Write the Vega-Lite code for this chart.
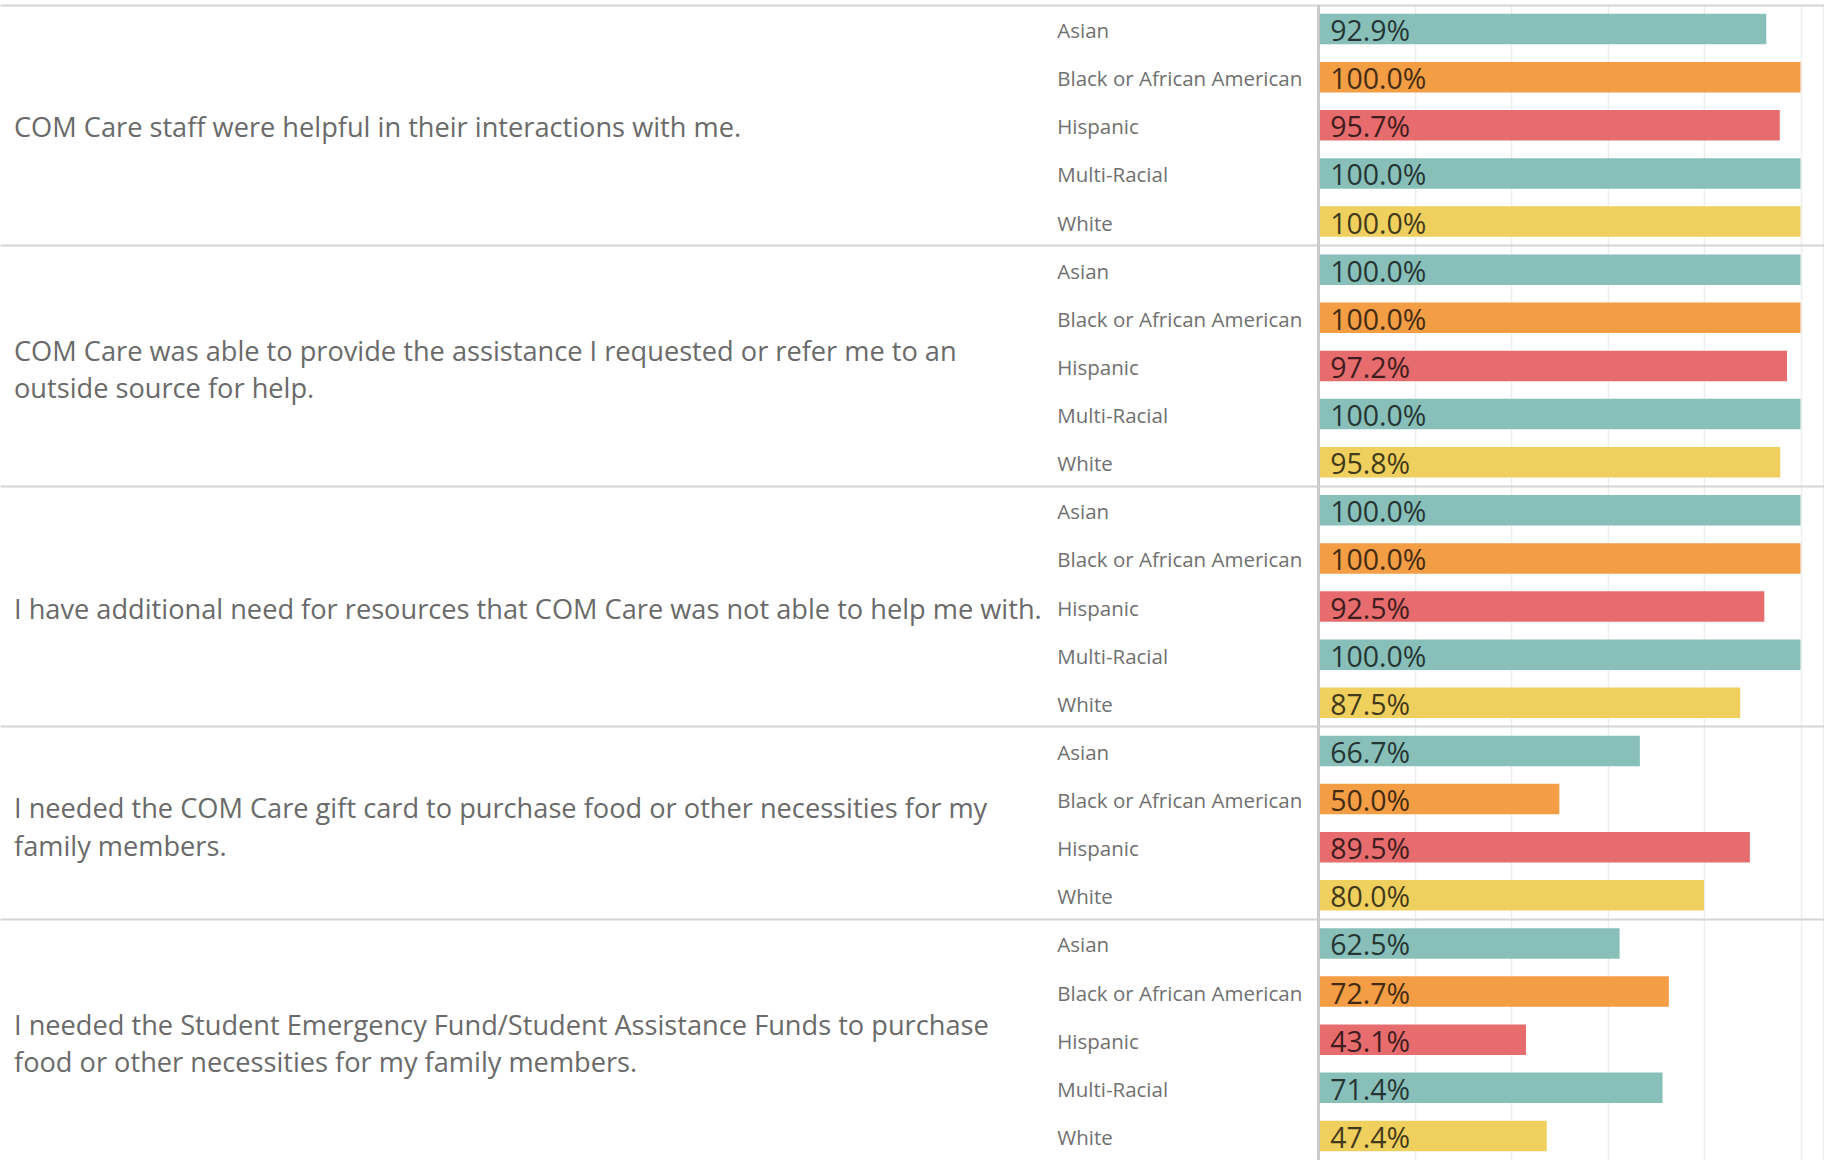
{
  "$schema": "https://vega.github.io/schema/vega-lite/v6.json",
  "width": 1824,
  "height": 1155,
  "autosize": {"type": "none"},
  "padding": {"top": 5, "left": 0, "right": 0, "bottom": 0},
  "background": "#ffffff",
  "config": {"view": {"stroke": null}, "font": "Open Sans"},
  "data": {
    "values": [
      {"question": "COM Care staff were helpful in their interactions with me.", "race": "Asian", "value": 0.929},
      {"question": "COM Care staff were helpful in their interactions with me.", "race": "Black or African American", "value": 1.0},
      {"question": "COM Care staff were helpful in their interactions with me.", "race": "Hispanic", "value": 0.957},
      {"question": "COM Care staff were helpful in their interactions with me.", "race": "Multi-Racial", "value": 1.0},
      {"question": "COM Care staff were helpful in their interactions with me.", "race": "White", "value": 1.0},
      {"question": "COM Care was able to provide the assistance I requested or refer me to an\noutside source for help.", "race": "Asian", "value": 1.0},
      {"question": "COM Care was able to provide the assistance I requested or refer me to an\noutside source for help.", "race": "Black or African American", "value": 1.0},
      {"question": "COM Care was able to provide the assistance I requested or refer me to an\noutside source for help.", "race": "Hispanic", "value": 0.972},
      {"question": "COM Care was able to provide the assistance I requested or refer me to an\noutside source for help.", "race": "Multi-Racial", "value": 1.0},
      {"question": "COM Care was able to provide the assistance I requested or refer me to an\noutside source for help.", "race": "White", "value": 0.958},
      {"question": "I have additional need for resources that COM Care was not able to help me with.", "race": "Asian", "value": 1.0},
      {"question": "I have additional need for resources that COM Care was not able to help me with.", "race": "Black or African American", "value": 1.0},
      {"question": "I have additional need for resources that COM Care was not able to help me with.", "race": "Hispanic", "value": 0.925},
      {"question": "I have additional need for resources that COM Care was not able to help me with.", "race": "Multi-Racial", "value": 1.0},
      {"question": "I have additional need for resources that COM Care was not able to help me with.", "race": "White", "value": 0.875},
      {"question": "I needed the COM Care gift card to purchase food or other necessities for my\nfamily members.", "race": "Asian", "value": 0.667},
      {"question": "I needed the COM Care gift card to purchase food or other necessities for my\nfamily members.", "race": "Black or African American", "value": 0.5},
      {"question": "I needed the COM Care gift card to purchase food or other necessities for my\nfamily members.", "race": "Hispanic", "value": 0.895},
      {"question": "I needed the COM Care gift card to purchase food or other necessities for my\nfamily members.", "race": "White", "value": 0.8},
      {"question": "I needed the Student Emergency Fund/Student Assistance Funds to purchase\nfood or other necessities for my family members.", "race": "Asian", "value": 0.625},
      {"question": "I needed the Student Emergency Fund/Student Assistance Funds to purchase\nfood or other necessities for my family members.", "race": "Black or African American", "value": 0.727},
      {"question": "I needed the Student Emergency Fund/Student Assistance Funds to purchase\nfood or other necessities for my family members.", "race": "Hispanic", "value": 0.431},
      {"question": "I needed the Student Emergency Fund/Student Assistance Funds to purchase\nfood or other necessities for my family members.", "race": "Multi-Racial", "value": 0.714},
      {"question": "I needed the Student Emergency Fund/Student Assistance Funds to purchase\nfood or other necessities for my family members.", "race": "White", "value": 0.474}
    ]
  },
  "transform": [{"calculate": "datum.question + '|' + datum.race", "as": "key"}],
  "layer": [
    {
      "mark": {"type": "bar", "height": {"band": 0.635}},
      "encoding": {
        "y": {
          "field": "key", "type": "nominal", "sort": null,
          "scale": {"paddingInner": 0, "paddingOuter": 0},
          "axis": {
            "values": [
              "COM Care staff were helpful in their interactions with me.|Asian",
              "COM Care was able to provide the assistance I requested or refer me to an\noutside source for help.|Asian",
              "I have additional need for resources that COM Care was not able to help me with.|Asian",
              "I needed the COM Care gift card to purchase food or other necessities for my\nfamily members.|Asian",
              "I needed the Student Emergency Fund/Student Assistance Funds to purchase\nfood or other necessities for my family members.|Asian"
            ],
            "bandPosition": 0,
            "grid": true, "gridColor": "#d4d4d4", "gridWidth": 2,
            "labels": false, "ticks": false, "domain": false, "title": null
          }
        },
        "x": {
          "field": "value", "type": "quantitative",
          "scale": {"domain": [-2.7326, 1.0487], "nice": false, "zero": false},
          "axis": {
            "orient": "top", "values": [0.2, 0.4, 0.6, 0.8, 1.0, 1.046],
            "grid": true, "gridColor": "#eeeeee", "gridWidth": 1.5,
            "labels": false, "ticks": false, "domain": false, "title": null
          }
        },
        "color": {
          "field": "race", "type": "nominal",
          "scale": {
            "domain": ["Asian", "Black or African American", "Hispanic", "Multi-Racial", "White"],
            "range": ["#88c0b9", "#f39d45", "#e66c6e", "#88c0b9", "#efd05f"]
          },
          "legend": null
        }
      }
    },
    {
      "mark": {"type": "rule", "color": "#cccccc", "strokeWidth": 2},
      "encoding": {"x": {"datum": 0}}
    },
    {
      "mark": {"type": "text", "align": "left", "baseline": "middle", "dx": 12, "dy": 3, "fontSize": 28.5, "fill": "#000000", "opacity": 0.72},
      "encoding": {
        "y": {"field": "key", "type": "nominal", "sort": null},
        "x": {"datum": 0},
        "text": {"field": "value", "type": "quantitative", "format": ".1%"}
      }
    },
    {
      "mark": {"type": "text", "align": "left", "baseline": "middle", "dy": 3, "fontSize": 20.5, "fill": "#707070"},
      "encoding": {
        "y": {"field": "key", "type": "nominal", "sort": null},
        "x": {"datum": -0.5409},
        "text": {"field": "race", "type": "nominal"}
      }
    },
    {
      "transform": [{"filter": "datum.race == 'Hispanic' && indexof(datum.question, '\\n') < 0"}],
      "mark": {"type": "text", "align": "left", "baseline": "middle", "dx": 14, "dy": 4, "fontSize": 27.2, "lineHeight": 37.5, "lineBreak": "\n", "fill": "#6a6a6a"},
      "encoding": {
        "y": {"field": "key", "type": "nominal", "sort": null},
        "x": {"datum": -2.7326},
        "text": {"field": "question", "type": "nominal"}
      }
    },
    {
      "transform": [{"filter": "datum.race == 'Hispanic' && indexof(datum.question, '\\n') >= 0 && indexof(datum.question, 'gift card') < 0"}],
      "mark": {"type": "text", "align": "left", "baseline": "middle", "dx": 14, "dy": -13, "fontSize": 27.2, "lineHeight": 37.5, "lineBreak": "\n", "fill": "#6a6a6a"},
      "encoding": {
        "y": {"field": "key", "type": "nominal", "sort": null},
        "x": {"datum": -2.7326},
        "text": {"field": "question", "type": "nominal"}
      }
    },
    {
      "transform": [{"filter": "datum.race == 'Hispanic' && indexof(datum.question, 'gift card') >= 0"}],
      "mark": {"type": "text", "align": "left", "baseline": "middle", "dx": 14, "dy": -13, "fontSize": 27.2, "lineHeight": 37.5, "lineBreak": "\n", "fill": "#6a6a6a"},
      "encoding": {
        "y": {"field": "key", "type": "nominal", "sort": null, "bandPosition": 0},
        "x": {"datum": -2.7326},
        "text": {"field": "question", "type": "nominal"}
      }
    }
  ]
}
